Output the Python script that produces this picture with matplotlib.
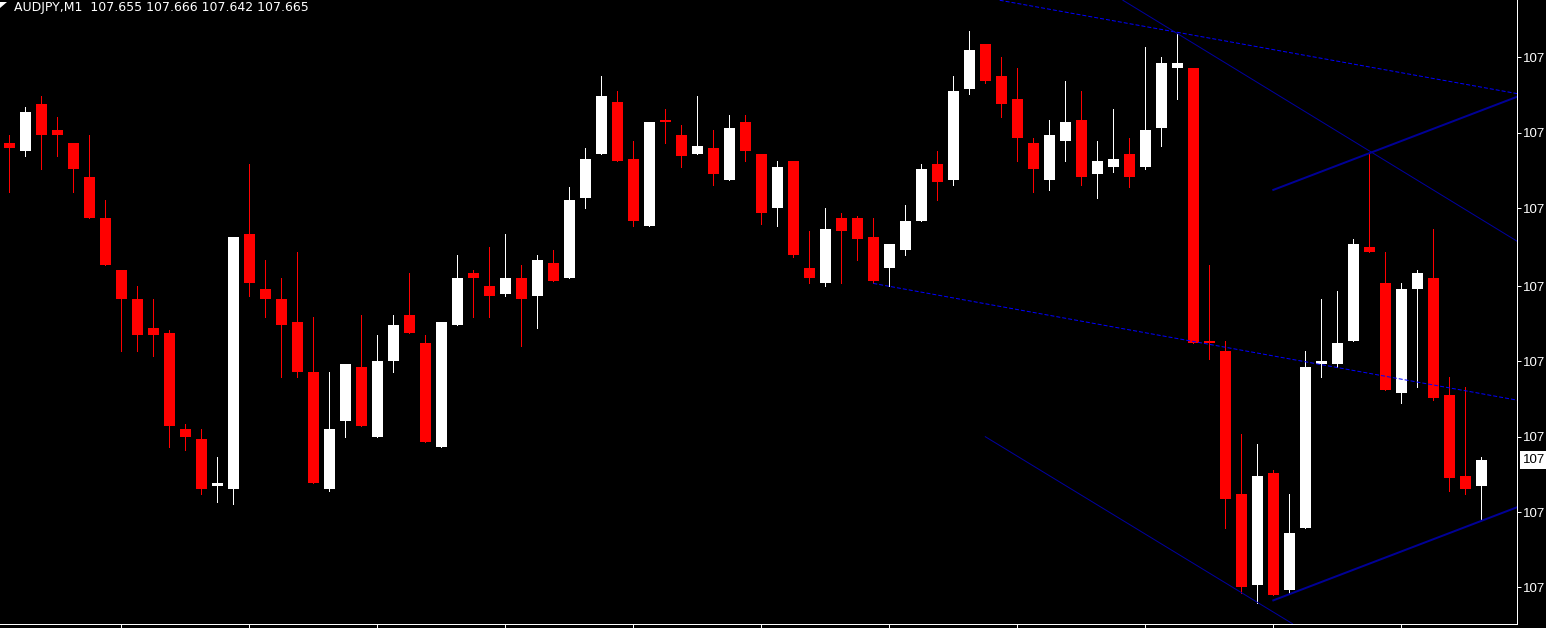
import numpy as np
import matplotlib
matplotlib.use('Agg')
import matplotlib.pyplot as plt
from matplotlib.patches import Polygon

# quote header
sSymbol = 'AUDJPY,M1'

# one minute bars, oldest first
aOpen = [107.787, 107.784, 107.802, 107.792, 107.787, 107.774, 107.758, 107.738, 107.727, 107.716,
         107.714, 107.677, 107.673, 107.655, 107.654, 107.752, 107.731, 107.727, 107.718, 107.699,
         107.654, 107.680, 107.701, 107.674, 107.703, 107.721, 107.710, 107.670, 107.717, 107.737,
         107.732, 107.729, 107.735, 107.728, 107.741, 107.735, 107.766, 107.783, 107.803, 107.781,
         107.755, 107.796, 107.790, 107.783, 107.785, 107.773, 107.795, 107.783, 107.762, 107.780,
         107.739, 107.733, 107.758, 107.758, 107.751, 107.739, 107.746, 107.757, 107.779, 107.773,
         107.808, 107.825, 107.813, 107.804, 107.787, 107.773, 107.788, 107.796, 107.775, 107.778,
         107.783, 107.778, 107.793, 107.816, 107.816, 107.711, 107.707, 107.652, 107.617, 107.660,
         107.615, 107.639, 107.702, 107.702, 107.711, 107.747, 107.733, 107.691, 107.731, 107.735,
         107.690, 107.659, 107.655]
aHigh = [107.790, 107.801, 107.805, 107.797, 107.787, 107.790, 107.765, 107.738, 107.732, 107.727,
         107.715, 107.679, 107.677, 107.666, 107.751, 107.779, 107.742, 107.735, 107.745, 107.720,
         107.699, 107.702, 107.721, 107.713, 107.721, 107.737, 107.713, 107.718, 107.744, 107.738,
         107.747, 107.752, 107.740, 107.744, 107.746, 107.770, 107.785, 107.813, 107.807, 107.788,
         107.795, 107.800, 107.794, 107.805, 107.792, 107.798, 107.798, 107.783, 107.780, 107.780,
         107.753, 107.762, 107.760, 107.759, 107.758, 107.748, 107.763, 107.779, 107.784, 107.813,
         107.830, 107.825, 107.820, 107.816, 107.789, 107.796, 107.811, 107.807, 107.788, 107.800,
         107.789, 107.824, 107.820, 107.829, 107.816, 107.740, 107.711, 107.675, 107.671, 107.661,
         107.652, 107.707, 107.727, 107.730, 107.750, 107.783, 107.745, 107.733, 107.738, 107.754,
         107.697, 107.693, 107.666]
aLow = [107.768, 107.782, 107.777, 107.782, 107.768, 107.758, 107.740, 107.707, 107.707, 107.705,
        107.670, 107.669, 107.652, 107.649, 107.648, 107.728, 107.720, 107.697, 107.697, 107.656,
        107.653, 107.674, 107.678, 107.674, 107.699, 107.714, 107.672, 107.670, 107.717, 107.720,
        107.720, 107.728, 107.709, 107.716, 107.734, 107.735, 107.762, 107.783, 107.780, 107.755,
        107.755, 107.787, 107.778, 107.783, 107.771, 107.773, 107.780, 107.756, 107.755, 107.743,
        107.733, 107.732, 107.733, 107.742, 107.733, 107.732, 107.744, 107.757, 107.765, 107.771,
        107.806, 107.810, 107.797, 107.780, 107.768, 107.769, 107.780, 107.771, 107.766, 107.776,
        107.770, 107.777, 107.786, 107.804, 107.710, 107.704, 107.639, 107.614, 107.610, 107.613,
        107.614, 107.639, 107.697, 107.701, 107.711, 107.745, 107.692, 107.687, 107.693, 107.688,
        107.653, 107.652, 107.642]
aClose = [107.785, 107.799, 107.790, 107.790, 107.777, 107.758, 107.740, 107.727, 107.713, 107.713,
          107.678, 107.674, 107.654, 107.656, 107.751, 107.733, 107.727, 107.717, 107.699, 107.656,
          107.677, 107.702, 107.678, 107.703, 107.717, 107.714, 107.672, 107.718, 107.735, 107.735,
          107.728, 107.735, 107.727, 107.742, 107.734, 107.765, 107.781, 107.805, 107.780, 107.757,
          107.795, 107.795, 107.782, 107.786, 107.775, 107.793, 107.784, 107.760, 107.778, 107.744,
          107.735, 107.754, 107.753, 107.750, 107.734, 107.748, 107.757, 107.777, 107.772, 107.807,
          107.823, 107.811, 107.802, 107.789, 107.777, 107.790, 107.795, 107.774, 107.780, 107.781,
          107.774, 107.792, 107.818, 107.818, 107.710, 107.710, 107.650, 107.616, 107.659, 107.613,
          107.637, 107.701, 107.703, 107.710, 107.748, 107.745, 107.692, 107.731, 107.737, 107.689,
          107.658, 107.654, 107.665]

# price scale labels (cut off by the window edge)
aTick_price = [107.820, 107.791, 107.762, 107.732, 107.703, 107.674, 107.645, 107.616]
aTick_label = ['107'] * len(aTick_price)

# trend lines: (bar index, price) anchor pairs
aLine_dotted = [[(61.9, 107.842), (94.3, 107.806)],
                [(54.0, 107.733), (94.3, 107.688)]]
aLine_thin = [[(69.6, 107.842), (94.3, 107.749)],
              [(61.0, 107.674), (80.2, 107.602)]]
aLine_thick = [[(79.0, 107.769), (94.3, 107.805)],
               [(79.0, 107.611), (94.3, 107.647)]]

px = 0.72  # one pixel in points at 100 dpi
sAxis_font = 'Liberation Sans'

fig = plt.figure(figsize=(15.46, 6.28), dpi=100, facecolor='black')
ax = fig.add_axes([0, 4 / 628, 1517 / 1546, 624 / 628], facecolor='black')

aO = np.array(aOpen)
aC = np.array(aClose)
aX = np.arange(len(aO))
aUp = aC >= aO
aColor = np.where(aUp, 'white', '#ff0000')

# wicks
ax.vlines(aX, aLow, aHigh, colors=aColor, linewidth=px, antialiased=False, zorder=2)
# bodies
aBottom = np.minimum(aO, aC)
aHeight = np.maximum(np.abs(aC - aO), 0.0006)
ax.bar(aX, aHeight, bottom=aBottom, width=0.69, color=aColor, linewidth=0,
       antialiased=False, zorder=3)

# trend lines
for line in aLine_dotted:
    (x0, y0), (x1, y1) = line
    ax.plot([x0, x1], [y0, y1], color='#0000ff', linewidth=px, linestyle=(0, (4, 2)), zorder=4)
for line in aLine_thin:
    (x0, y0), (x1, y1) = line
    ax.plot([x0, x1], [y0, y1], color='#0000a0', linewidth=px, zorder=4)
for line in aLine_thick:
    (x0, y0), (x1, y1) = line
    ax.plot([x0, x1], [y0, y1], color='#000096', linewidth=2 * px, zorder=4)

ax.set_xlim(-0.58, 94.23)
ax.set_ylim(107.6019, 107.8421)

# axes like the terminal window
for s in ['top', 'left']:
    ax.spines[s].set_visible(False)
for s in ['right', 'bottom']:
    ax.spines[s].set_color('white')
    ax.spines[s].set_linewidth(px)

ax.yaxis.tick_right()
ax.set_yticks(aTick_price)
ax.set_yticklabels(aTick_label, fontfamily=sAxis_font)
ax.tick_params(axis='y', direction='out', length=3, width=px, colors='white',
               labelsize=9.5, pad=1.5)
ax.set_xticks(np.arange(7, len(aO), 8))
ax.set_xticklabels([])
ax.tick_params(axis='x', direction='out', length=3, width=px, colors='white')

# current price marker
ax.annotate('107', xy=(1, aClose[-1]), xycoords=('axes fraction', 'data'),
            xytext=(6, 0), textcoords='offset pixels', va='center', ha='left',
            fontsize=9.5, fontfamily=sAxis_font, color='black', annotation_clip=False,
            bbox=dict(boxstyle='square,pad=0.25', fc='white', ec='none'))

# header
sHeader = '%s  %.3f %.3f %.3f %.3f' % (sSymbol, aOpen[-1], aHigh[-1], aLow[-1], aClose[-1])
fig.text(14 / 1546, 1 - 11 / 628, sHeader, color='white', fontsize=9, va='baseline', ha='left')
fig.patches.append(Polygon([[0, 1 - 2 / 628], [7 / 1546, 1 - 2 / 628], [0, 1 - 8 / 628]],
                           closed=True, transform=fig.transFigure, fc='white', ec='none'))

fig.savefig('out.png', dpi=100, facecolor='black')
